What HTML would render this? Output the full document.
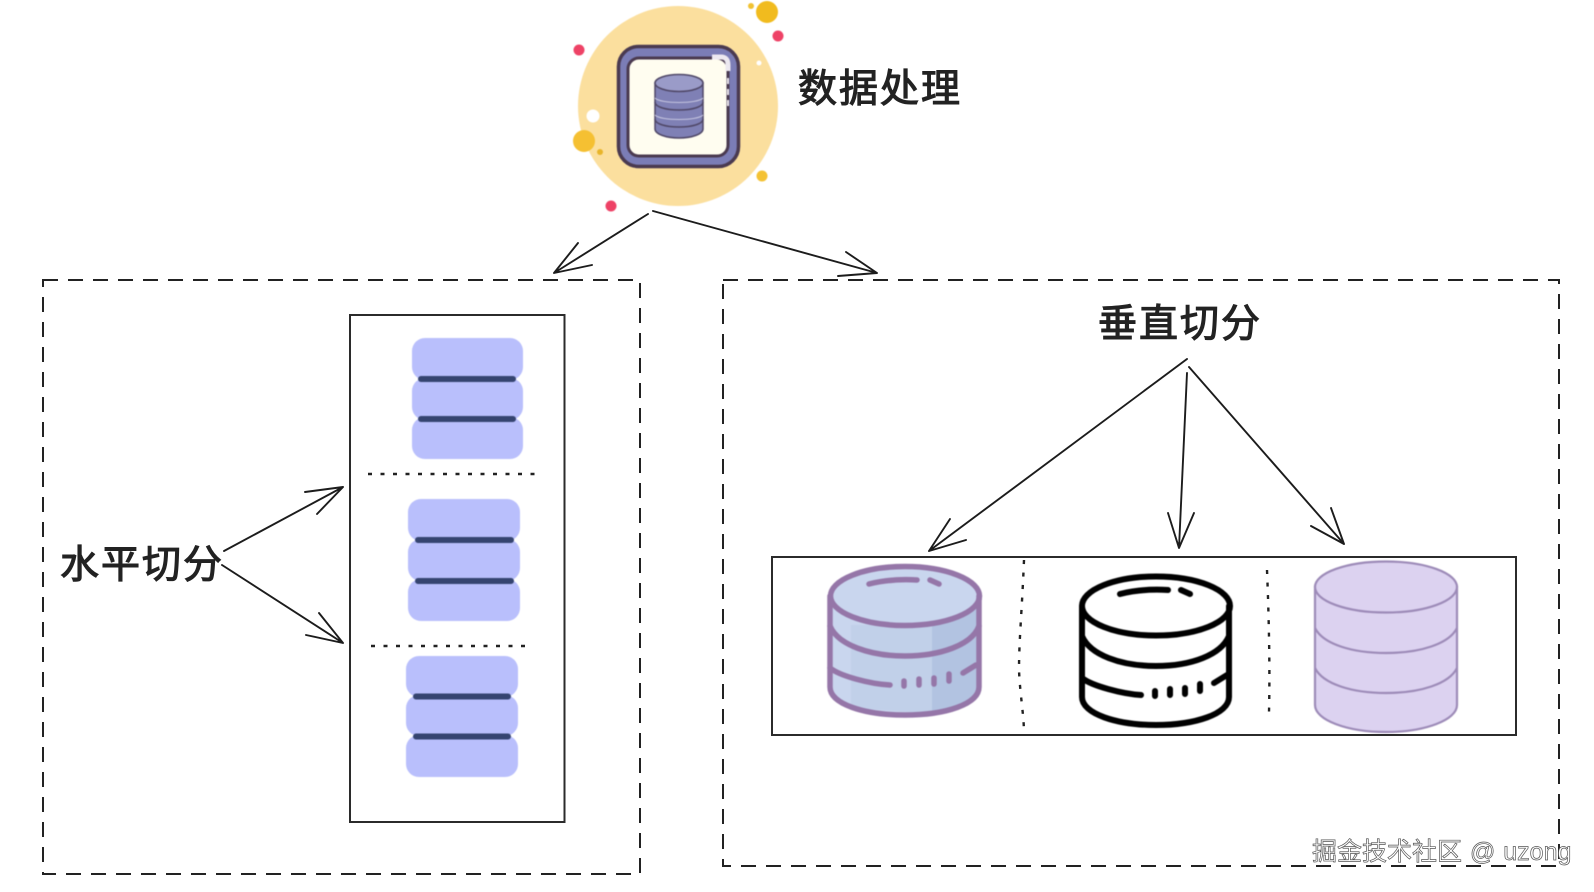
<!DOCTYPE html>
<html lang="zh">
<head>
<meta charset="utf-8">
<title>数据处理</title>
<style>
html,body{margin:0;padding:0;background:#fff;width:1594px;height:892px;overflow:hidden}
svg{display:block}
.t{font-family:"Liberation Sans","WenQuanYi Zen Hei","Noto Sans CJK SC",sans-serif;font-size:39px;fill:#222;stroke:#222;stroke-width:1.1;letter-spacing:2px}
.w{font-family:"Liberation Sans","Noto Sans CJK SC",sans-serif;font-size:25px;fill:#fff;stroke:#555;stroke-width:.7;word-spacing:1px}
.a{fill:none;stroke:#1c1c1c;stroke-width:1.9;stroke-linecap:round;stroke-linejoin:round}
.d{fill:none;stroke:#222;stroke-width:2;stroke-dasharray:15 10}
.o{fill:none;stroke:#2b2b2b;stroke-width:2}
.p{fill:none;stroke:#222;stroke-width:2.4;stroke-dasharray:4 8.500;stroke-linecap:butt}
.soft{filter:blur(.5px)}
</style>
</head>
<body>
<svg width="1594" height="892" viewBox="0 0 1594 892" xmlns="http://www.w3.org/2000/svg">
<rect width="1594" height="892" fill="#fff"/>

<!-- top icon -->
<g class="soft">
<circle cx="678" cy="106" r="100" fill="#fbdf9e"/>
<circle cx="767" cy="12" r="11" fill="#f1bb1e"/>
<circle cx="751" cy="6" r="3" fill="#f1c232"/>
<circle cx="778" cy="36" r="5.5" fill="#ee4266"/>
<circle cx="579" cy="50" r="5.5" fill="#ee4266"/>
<circle cx="593" cy="116" r="6.5" fill="#fff"/>
<circle cx="584" cy="141" r="11" fill="#f5c032"/>
<circle cx="600" cy="152" r="3" fill="#e8b52a"/>
<circle cx="762" cy="176" r="5.5" fill="#f4c234"/>
<circle cx="611" cy="206" r="5.5" fill="#ee4266"/>
<circle cx="759" cy="63" r="2.5" fill="#fff"/>
<rect x="618.500" y="46.500" width="120" height="120" rx="20" fill="#7b7db6" stroke="#4a3a50" stroke-width="3.5"/>
<rect x="628" y="58" width="100" height="98" rx="11" fill="#fffdf0" stroke="#4a3a50" stroke-width="3"/>
<path d="M712 57h9q7 0 7 8v6" fill="none" stroke="#ece8f0" stroke-width="5"/>
<path d="M728 78v30" fill="none" stroke="#ece8f0" stroke-width="2" stroke-dasharray="6 5"/>
<g stroke="#4f4767" stroke-width="1.5">
<path d="M655 83v46c0 5 11 9 24 9s24-4 24-9V83z" fill="#7f80b5"/>
<ellipse cx="679" cy="83" rx="24" ry="8.5" fill="#9a9bc8"/>
<path d="M655 102c0 5 11 8 24 8s24-3 24-8M655 119c0 5 11 8 24 8s24-3 24-8" fill="none"/>
</g>
<path d="M655 98c5 6 43 6 48 0M655 115c5 6 43 6 48 0" fill="none" stroke="#c5c5e0" stroke-width="1"/>
</g>
<text class="t" x="798" y="102">数据处理</text>

<!-- top arrows -->
<path class="a" d="M648 214L554 273M578 243L554 273L592 265"/>
<path class="a" d="M653 211L877 273M846 252L877 273L838 276"/>

<!-- dashed containers -->
<path class="d" d="M43 280H640V874H43Z"/>
<path class="d" d="M723 280H1559V866H723Z"/>

<!-- horizontal -->
<text class="t" x="60" y="578">水平切分</text>
<path class="a" d="M224 551L343 487M305 492L343 487L317 514"/>
<path class="a" d="M222 565L343 643M319 613L343 643L306 635"/>
<rect class="o" x="350" y="315" width="214.500" height="507"/>

<g class="soft">
<g fill="#b9bffc">
<rect x="412" y="338" width="111" height="42" rx="13"/>
<rect x="412" y="378" width="111" height="42" rx="13"/>
<rect x="412" y="417" width="111" height="42" rx="13"/>
<rect x="408" y="499" width="112" height="42" rx="13"/>
<rect x="408" y="539" width="112" height="42" rx="13"/>
<rect x="408" y="579" width="112" height="42" rx="13"/>
<rect x="406" y="656" width="112" height="41" rx="13"/>
<rect x="406" y="695" width="112" height="41" rx="13"/>
<rect x="406" y="735" width="112" height="42" rx="13"/>
</g>
<g stroke="#354470" stroke-width="6" stroke-linecap="round">
<path d="M421 379H513M421 419H513M418 540H511M418 581H511M416 696.500H508M416 736.500H508"/>
</g>
</g>
<path class="p" d="M368 474H535"/>
<path class="p" d="M371 646H527"/>

<!-- vertical -->
<text class="t" x="1098" y="337">垂直切分</text>
<path class="a" d="M1187 359L929 551M950 519L929 551L966 540"/>
<path class="a" d="M1187 373L1179 548M1168 513L1179 548L1194 513"/>
<path class="a" d="M1189 367L1344 544M1331 508L1344 544L1311 526"/>
<rect class="o" x="772" y="557" width="744" height="178"/>
<path class="p" d="M1024 560C1022 610 1019 640 1019 670C1020 695 1024 715 1024 734"/>
<path class="p" d="M1267 570C1269 620 1270 670 1269 712"/>

<!-- DB 1 -->
<g class="soft">
<path d="M830 596V687C830 704 864 715 905 715S979 704 979 687V596Z" fill="#c9d6ee"/>
<path d="M851 625H932V713L851 708Z" fill="#bccbe6" opacity=".6"/>
<path d="M932 620L979 600V690C979 702 955 712 932 714Z" fill="#b2c3e1"/>
<ellipse cx="905" cy="596" rx="74.500" ry="29.500" fill="#c9d6ee"/>
<g fill="none" stroke="#9576a8" stroke-width="5.500" stroke-linecap="round">
<path d="M830 596V687C830 704 864 715 905 715S979 704 979 687V596"/>
<ellipse cx="905" cy="596" rx="74.500" ry="29.500"/>
<path d="M830 626C838 645 870 656 905 656S972 645 979 626"/>
<path d="M830 668C840 676 870 684 890 685"/>
<path d="M869 584C885 580 900 579 917 580M930 580L939 584"/>
<path d="M904 681V686M919 679V685M934 678V684M949 674V681M963 673L976 665"/>
</g>
</g>

<!-- DB 2 -->
<g class="soft" fill="none" stroke="#000" stroke-width="6" stroke-linecap="round">
<path d="M1082 606V697C1082 714 1117 725 1156 725S1229 714 1229 697V606"/>
<ellipse cx="1156" cy="606" rx="74" ry="29.500"/>
<path d="M1082 636C1090 655 1121 666 1156 666S1221 655 1229 636"/>
<path d="M1082 678C1092 686 1123 694 1141 695"/>
<path d="M1120 594C1136 590 1151 589 1168 590M1181 590L1190 594"/>
<path d="M1155 691V696M1170 689V695M1185 688V694M1200 684V691M1214 683L1227 675"/>
</g>

<!-- DB 3 -->
<g class="soft" stroke="#9d8bb8" stroke-width="2.2" fill="#dcd2f0">
<path d="M1315 587V705C1315 720 1347 732 1386 732S1457 720 1457 705V587Z"/>
<ellipse cx="1386" cy="587" rx="71" ry="25.500"/>
<path d="M1315 628C1323 644 1352 653 1386 653S1449 644 1457 628" fill="none"/>
<path d="M1315 668C1323 684 1352 693 1386 693S1449 684 1457 668" fill="none"/>
</g>

<text class="w" x="1312" y="860">掘金技术社区 @ uzong</text>
</svg>
</body>
</html>
